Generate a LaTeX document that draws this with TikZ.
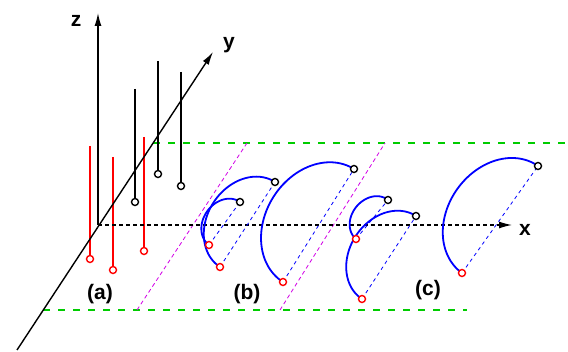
\documentclass[tikz,border=0pt]{standalone}
\usepackage{fontspec}
\setmainfont{Liberation Sans}
\usetikzlibrary{arrows.meta,calc}
\definecolor{gline}{RGB}{0,204,0}
\definecolor{mline}{RGB}{210,0,230}
\definecolor{bline}{RGB}{0,0,255}
\definecolor{rline}{RGB}{255,0,0}
\tikzset{
  axisline/.style={line width=1.4pt,-{Latex[length=13pt,width=7pt]}},
  xaxisline/.style={line width=1.2pt,dash pattern=on 4pt off 3pt,-{Latex[length=13pt,width=7pt]}},
  greenline/.style={gline,line width=1.5pt,dash pattern=on 7pt off 8pt},
  magline/.style={mline,line width=0.8pt,dash pattern=on 4pt off 3pt},
  blueline/.style={bline,line width=0.8pt,dash pattern=on 3.5pt off 3.5pt},
  arcline/.style={bline,line width=1.8pt},
  redstem/.style={rline,line width=1.8pt},
  blackstem/.style={black,line width=1.4pt},
  redpt/.style={circle,draw=rline,fill=white,line width=1.4pt,inner sep=0pt,minimum size=7pt},
  blackpt/.style={circle,draw=black,fill=white,line width=1.4pt,inner sep=0pt,minimum size=7pt},
  lab/.style={font=\fontsize{21}{24}\selectfont\bfseries,inner sep=0pt},
}
\newcommand\halfloop[2]{%
  \draw[arcline] let \p1=(#1), \p2=(#2) in
    plot[variable=\t, domain=0:180, samples=60, smooth]
    ({(\x1+\x2)/2 + cos(\t)*(\x1-\x2)/2 + 0.8*sin(\t)*(\y1-\y2)/2},
     {(\y1+\y2)/2 + cos(\t)*(\y1-\y2)/2 - 0.8*sin(\t)*(\x1-\x2)/2});
  \draw[blueline] (#1) -- (#2);
}
\begin{document}
\begin{tikzpicture}[x=1pt,y=1pt]
\useasboundingbox (0,0) rectangle (568,351);
% coordinates
\coordinate (O) at (98,126);
\coordinate (ztip) at (98,338);
\coordinate (ybot) at (17,1);
\coordinate (ytip) at (213,299);
\coordinate (xtip) at (512,126);
\coordinate (gt1) at (153,208); \coordinate (gt2) at (568,208);
\coordinate (gb1) at (43,41);   \coordinate (gb2) at (467,41);
\coordinate (m1a) at (137,41);  \coordinate (m1b) at (247,208);
\coordinate (m2a) at (280,41);  \coordinate (m2b) at (385,208);
% stems (a)
\coordinate (rt1) at (90,205);  \coordinate (r1) at (90,92);
\coordinate (rt2) at (113,194); \coordinate (r2) at (113,81);
\coordinate (rt3) at (144,214); \coordinate (r3) at (144,100);
\coordinate (kt1) at (135,262); \coordinate (k1) at (135,149);
\coordinate (kt2) at (158,290); \coordinate (k2) at (158,177);
\coordinate (kt3) at (181,279); \coordinate (k3) at (181,165);
% loops
\coordinate (ra) at (209,106); \coordinate (ka) at (240,149);
\coordinate (rb) at (220,84);  \coordinate (kb) at (275,169);
\coordinate (rc) at (283,69);  \coordinate (kc) at (354,182);
\coordinate (rd) at (356,112); \coordinate (kd) at (388,151);
\coordinate (re) at (362,52);  \coordinate (ke) at (416,135);
\coordinate (rf) at (462,78);  \coordinate (kf) at (538,185);

% green and magenta guide lines
\draw[greenline] (gt1) -- (gt2);
\draw[greenline] (gb1) -- (gb2);
\draw[magline] (m1a) -- (m1b);
\draw[magline] (m2a) -- (m2b);

% stems
\draw[redstem] (rt1) -- (r1);
\draw[redstem] (rt2) -- (r2);
\draw[redstem] (rt3) -- (r3);
\draw[blackstem] (kt1) -- (k1);
\draw[blackstem] (kt2) -- (k2);
\draw[blackstem] (kt3) -- (k3);

% axes
\draw[axisline] (O) -- (ztip);
\draw[axisline] (ybot) -- (ytip);
\draw[xaxisline] (O) -- (xtip);

% loops
\halfloop{ra}{ka}
\halfloop{rb}{kb}
\halfloop{rc}{kc}
\halfloop{rd}{kd}
\halfloop{re}{ke}
\halfloop{rf}{kf}

% end points
\foreach \p in {r1,r2,r3,ra,rb,rc,rd,re,rf} \node[redpt] (n\p) at (\p) {};
\foreach \p in {k1,k2,k3,ka,kb,kc,kd,ke,kf} \node[blackpt] (n\p) at (\p) {};

% labels
\node[lab] (zl) at (76,330) {z};
\node[lab] (yl) at (229,306) {y};
\node[lab] (xl) at (525,121) {x};
\node[lab] (la) at (100,57) {(a)};
\node[lab] (lb) at (247,57) {(b)};
\node[lab] (lc) at (428,61) {(c)};
\end{tikzpicture}
\end{document}
